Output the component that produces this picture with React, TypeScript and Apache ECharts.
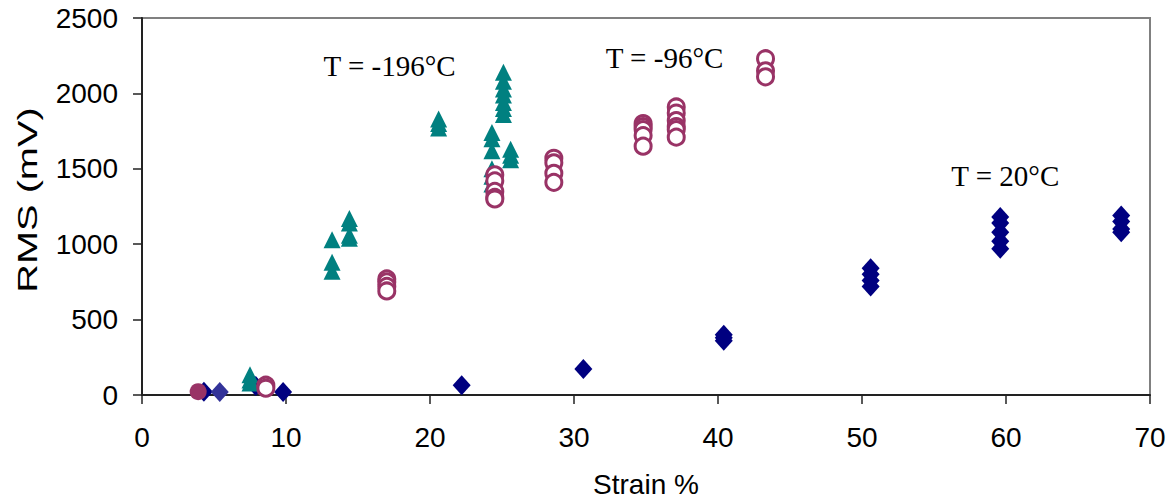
import React, { useEffect, useRef } from "react";
import * as echarts from "echarts";

// T = -196°C (teal triangles)
const coldStrain = [7.5, 7.5, 7.5, 13.2, 13.2, 13.2, 14.4, 14.4, 14.4, 14.4, 20.6, 20.6, 20.6, 24.3, 24.3, 24.3, 24.3, 24.3, 24.3, 25.1, 25.1, 25.1, 25.1, 25.1, 25.1, 25.1, 25.6, 25.6, 25.6];
const coldRms = [135, 100, 80, 1030, 880, 820, 1170, 1140, 1060, 1040, 1830, 1800, 1770, 1740, 1700, 1620, 1500, 1450, 1400, 2140, 2080, 2030, 1990, 1940, 1900, 1860, 1630, 1590, 1560];

// T = -96°C (open circles)
const midStrain = [8.6, 8.6, 17.0, 17.0, 17.0, 17.0, 24.5, 24.5, 24.5, 24.5, 24.5, 28.6, 28.6, 28.6, 28.6, 34.8, 34.8, 34.8, 34.8, 34.8, 37.1, 37.1, 37.1, 37.1, 37.1, 37.1, 43.3, 43.3, 43.3];
const midRms = [65, 45, 770, 750, 720, 690, 1460, 1420, 1350, 1310, 1300, 1570, 1540, 1470, 1410, 1800, 1780, 1760, 1720, 1650, 1910, 1870, 1820, 1780, 1760, 1710, 2230, 2150, 2110];

// filled circle point
const filledStrain = [3.9];
const filledRms = [22];

// T = 20°C (navy diamonds)
const warmStrain = [4.3, 7.9, 9.8, 22.2, 30.65, 40.4, 40.4, 40.4, 50.6, 50.6, 50.6, 50.6, 59.6, 59.6, 59.6, 59.6, 59.6, 68.0, 68.0, 68.0, 68.0];
const warmRms = [22, 60, 20, 65, 172, 400, 380, 360, 840, 800, 760, 720, 1180, 1140, 1080, 1020, 970, 1190, 1150, 1100, 1080];

// blue diamond point
const blueStrain = [5.4];
const blueRms = [20];

const xTicks = { min: 0, max: 70, interval: 10 };
const yTicks = { min: 0, max: 2500, interval: 500 };

const annotations = [
  { text: "T = -196°C", strain: 12.6, rms: 2180 },
  { text: "T = -96°C", strain: 32.2, rms: 2233 },
  { text: "T = 20°C", strain: 56.2, rms: 1455 },
];

const zip = (a: number[], b: number[]) => a.map((v, i) => [v, b[i]]);

export default function App() {
  const ref = useRef<HTMLDivElement>(null);
  useEffect(() => {
    if (!ref.current) return;
    const chart = echarts.init(ref.current, undefined, { renderer: "svg" });
    const gridLeft = 142, gridRight = 24, gridTop = 18, gridBottom = 107;
    const W = 1174, H = 503;
    const pw = W - gridLeft - gridRight, ph = H - gridTop - gridBottom;
    const toPx = (s: number, v: number) => [
      gridLeft + (s / xTicks.max) * pw,
      gridTop + ph - (v / yTicks.max) * ph,
    ];
    const option: any = {
      animation: false,
      backgroundColor: "#ffffff",
      grid: {
        left: gridLeft, right: gridRight, top: gridTop, bottom: gridBottom,
        show: true, borderColor: "#808080", borderWidth: 2, backgroundColor: "transparent",
      },
      xAxis: {
        type: "value", ...xTicks,
        name: "Strain %", nameLocation: "middle", nameGap: 75,
        nameTextStyle: { fontFamily: "Liberation Sans, Arial", fontSize: 28, color: "#000" },
        axisLine: { show: true, onZero: false, lineStyle: { color: "#222", width: 2 } },
        axisTick: { show: true, inside: false, length: 9, lineStyle: { color: "#222", width: 1.5 } },
        axisLabel: { margin: 28, fontFamily: "Liberation Sans, Arial", fontSize: 28, color: "#000", formatter: (v: number) => String(v) },
        splitLine: { show: false },
      },
      yAxis: {
        type: "value", ...yTicks,
        axisLine: { show: true, onZero: false, lineStyle: { color: "#222", width: 2 } },
        axisTick: { show: true, inside: false, length: 9, lineStyle: { color: "#222", width: 1.5 } },
        axisLabel: { margin: 24, fontFamily: "Liberation Sans, Arial", fontSize: 28, color: "#000", formatter: (v: number) => String(v) },
        splitLine: { show: false },
      },
      graphic: [
        {
          type: "text", x: 27, y: 200, rotation: Math.PI / 2, scaleX: 1.42,
          style: { text: "RMS (mV)", fontFamily: "Liberation Sans, Arial", fontSize: 28, fill: "#000", align: "center", verticalAlign: "middle" },
        },
        ...annotations.map((a) => {
          const [x, y] = toPx(a.strain, a.rms);
          return {
            type: "text", x, y,
            style: { text: a.text, fontFamily: "Liberation Serif, Times New Roman", fontSize: 29, fill: "#000", align: "left", verticalAlign: "middle" },
          };
        }),
      ],
      series: [
        {
          type: "scatter", name: "20°C", data: zip(warmStrain, warmRms),
          symbol: "diamond", symbolSize: [18, 20],
          itemStyle: { color: "#000080", opacity: 1 },
        },
        {
          type: "scatter", name: "blue", data: zip(blueStrain, blueRms),
          symbol: "diamond", symbolSize: [18, 20],
          itemStyle: { color: "#333399", opacity: 1 },
        },
        {
          type: "scatter", name: "-196°C", data: zip(coldStrain, coldRms),
          symbol: "triangle", symbolSize: [17, 17],
          itemStyle: { color: "#008080", opacity: 1 },
        },
        {
          type: "scatter", name: "filled", data: zip(filledStrain, filledRms),
          symbol: "circle", symbolSize: 17,
          itemStyle: { color: "#993366", opacity: 1 },
        },
        {
          type: "scatter", name: "-96°C", data: zip(midStrain, midRms),
          symbol: "circle", symbolSize: 16,
          itemStyle: { color: "#ffffff", borderColor: "#993366", borderWidth: 3, opacity: 1 },
        },
      ],
    };
    chart.setOption(option);
    return () => chart.dispose();
  }, []);
  return <div ref={ref} style={{ width: 1174, height: 503, position: "absolute", left: 0, top: 0 }} />;
}
